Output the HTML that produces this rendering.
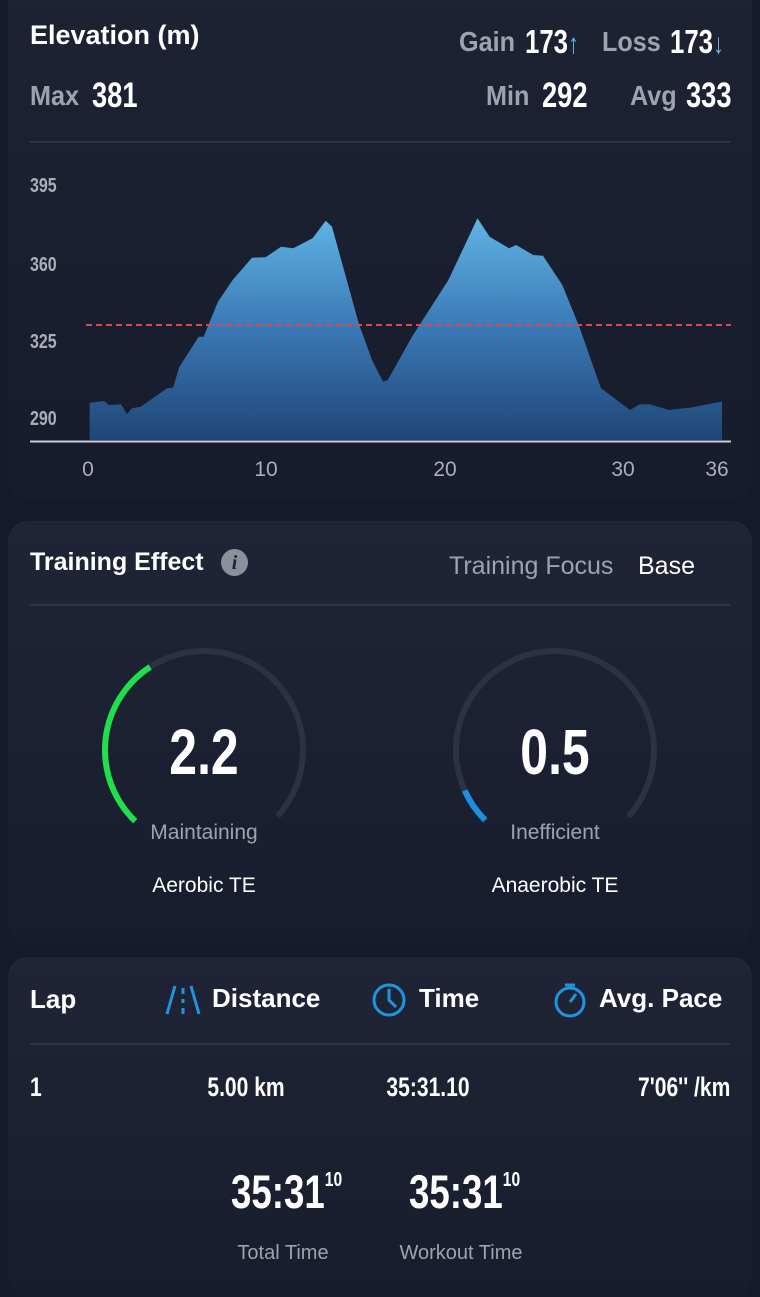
<!DOCTYPE html>
<html><head><meta charset="utf-8"><style>
html,body{margin:0;padding:0;}
body{width:760px;height:1280px;background:#141a29;overflow:hidden;position:relative;font-family:"Liberation Sans",sans-serif;color:#fff;}
.card{position:absolute;left:8px;width:744px;border-radius:20px;background:linear-gradient(#1f2536,#171d2d);}
.t{position:absolute;white-space:nowrap;line-height:1;}
.n{font-weight:bold;transform:scaleX(.78);transform-origin:0 0;}
.gl{font-weight:bold;transform:scaleX(.9);transform-origin:0 0;}
.c{transform-origin:50% 0;}
.r{transform-origin:100% 0;}
.g{color:#9ea3ae;}
.hr{position:absolute;left:30px;width:700px;height:2px;background:#2d3445;}
</style></head><body>
<div class="card" style="top:-20px;height:520px;background:linear-gradient(#1d2333,#161c2c);"></div>
<div class="card" style="top:521px;height:424px;"></div>
<div class="card" style="top:957px;height:340px;"></div>

<div class="t" style="left:30px;top:22px;font-size:27px;font-weight:bold;">Elevation (m)</div>
<div class="t gl g" style="left:459px;top:28px;font-size:28px;">Gain</div>
<div class="t n" style="left:525px;top:25px;font-size:33px;">173<span style="color:#6cb7ee;font-weight:normal;font-size:28px">↑</span></div>
<div class="t gl g" style="left:602px;top:28px;font-size:28px;">Loss</div>
<div class="t n" style="left:670px;top:25px;font-size:33px;">173<span style="color:#6cb7ee;font-weight:normal;font-size:28px">↓</span></div>
<div class="t gl g" style="left:30px;top:82px;font-size:28px;">Max</div>
<div class="t n" style="left:92px;top:78px;font-size:35px;">381</div>
<div class="t gl g" style="left:486px;top:82px;font-size:28px;">Min</div>
<div class="t n" style="left:542px;top:78px;font-size:35px;">292</div>
<div class="t gl g" style="left:630px;top:82px;font-size:28px;">Avg</div>
<div class="t n" style="left:686px;top:78px;font-size:35px;">333</div>
<div class="hr" style="top:141px;"></div>

<svg style="position:absolute;left:0;top:0" width="760" height="500">
<defs><linearGradient id="eg" x1="0" y1="0" x2="0" y2="1"><stop offset="0" stop-color="#5fb4e6"/><stop offset="0.5" stop-color="#3a78b5"/><stop offset="1" stop-color="#1f4676"/></linearGradient></defs>
<polygon fill="url(#eg)" points="89.7,440 89.7,402.7 104.2,401 109,405 121,404.3 127,414.3 131.8,408.3 140.6,406.7 160,393.3 167.2,388.3 173,387.7 179.4,366.7 198.7,336.7 203.6,336.7 218,301.7 232.7,280 252,257.7 265.6,257.3 281,246.7 293.3,248.3 312.6,238.3 325.7,220.7 332,226.7 358.7,323.3 372,360 383,381.7 387.8,380 412,336.7 448.4,280 477.5,218.3 489.6,236.7 509,248.3 516.2,245 533.2,255 543,255.7 562.3,285 579.3,326.7 601,388.3 630,410 640,404.3 649.5,404.3 669,410 693,407.3 712.5,403.3 722,401.7 722,440"/>
<line x1="86" y1="325" x2="731" y2="325" stroke="#d9474f" stroke-width="2" stroke-dasharray="6,4"/>
<line x1="30" y1="441.5" x2="731" y2="441.5" stroke="#c5cad6" stroke-width="2"/>
<g font-family="Liberation Sans,sans-serif" font-size="20" fill="#a9aeb9" font-weight="bold" transform="translate(30 0) scale(.8 1)">
<text x="0" y="192">395</text><text x="0" y="271">360</text><text x="0" y="348">325</text><text x="0" y="425">290</text></g>
<g font-family="Liberation Sans,sans-serif" font-size="21" fill="#a9aeb9" text-anchor="middle">
<text x="88" y="476">0</text><text x="266" y="476">10</text><text x="445" y="476">20</text><text x="623" y="476">30</text><text x="717" y="476">36</text></g>
</svg>

<div class="t" style="left:30px;top:550px;font-size:25px;font-weight:bold;">Training Effect</div>
<div class="t" style="left:221px;top:549px;width:27px;height:27px;border-radius:50%;background:#8b909c;color:#1d2333;font:italic bold 20px 'Liberation Serif',serif;text-align:center;line-height:28px;">i</div>
<div class="t g" style="left:449px;top:554px;font-size:25px;">Training Focus</div>
<div class="t" style="left:638px;top:554px;font-size:25px;">Base</div>
<div class="hr" style="top:604px;"></div>

<svg style="position:absolute;left:0;top:600px" width="760" height="250">
<g fill="none" stroke-width="6">
<circle cx="204" cy="150" r="99" stroke="#2c3242" stroke-dasharray="463 1000" transform="rotate(134 204 150)"/>
<circle cx="204" cy="150" r="99" stroke="#1fe04a" stroke-dasharray="178 1000" transform="rotate(134 204 150)"/>
<circle cx="555" cy="150" r="99" stroke="#2c3242" stroke-dasharray="463 1000" transform="rotate(134 555 150)"/>
<circle cx="555" cy="150" r="99" stroke="#1e8fe0" stroke-dasharray="36 1000" transform="rotate(135 555 150)"/>
</g></svg>
<div class="t n c" style="left:104px;width:200px;text-align:center;top:720px;font-size:64px;">2.2</div>
<div class="t n c" style="left:455px;width:200px;text-align:center;top:720px;font-size:64px;">0.5</div>
<div class="t g" style="left:104px;width:200px;text-align:center;top:822px;font-size:21px;">Maintaining</div>
<div class="t g" style="left:455px;width:200px;text-align:center;top:822px;font-size:21px;">Inefficient</div>
<div class="t" style="left:104px;width:200px;text-align:center;top:875px;font-size:21px;">Aerobic TE</div>
<div class="t" style="left:455px;width:200px;text-align:center;top:875px;font-size:21px;">Anaerobic TE</div>

<div class="t" style="left:30px;top:986px;font-size:26px;font-weight:bold;">Lap</div>
<svg style="position:absolute;left:160px;top:980px" width="600" height="40">
<g stroke="#1f95e0" stroke-width="3" fill="none">
<line x1="7" y1="34" x2="15" y2="6"/><line x1="39" y1="34" x2="31" y2="6"/><line x1="23" y1="8" x2="23" y2="14"/><line x1="23" y1="19" x2="23" y2="23"/><line x1="23" y1="28" x2="23" y2="34"/>
<circle cx="229" cy="20" r="15"/><path d="M229 9 V20 L236 27"/>
<circle cx="410" cy="22" r="14"/><path d="M405 5 H415 M410 5 V8 M410 22 L416 14"/>
</g></svg>
<div class="t" style="left:212px;top:985px;font-size:26px;font-weight:bold;">Distance</div>
<div class="t" style="left:419px;top:985px;font-size:26px;font-weight:bold;">Time</div>
<div class="t" style="left:599px;top:985px;font-size:26px;font-weight:bold;">Avg. Pace</div>
<div class="hr" style="top:1043px;"></div>
<div class="t n" style="left:30px;top:1074px;font-size:27px;">1</div>
<div class="t n c" style="left:146px;width:200px;text-align:center;top:1074px;font-size:27px;">5.00 km</div>
<div class="t n c" style="left:328px;width:200px;text-align:center;top:1074px;font-size:27px;">35:31.10</div>
<div class="t n r" style="right:30px;top:1074px;font-size:27px;">7'06'' /km</div>
<div class="t n" style="left:231px;top:1168px;font-size:47px;">35:31<span style="font-size:20px;vertical-align:22px;">10</span></div>
<div class="t n" style="left:409px;top:1168px;font-size:47px;">35:31<span style="font-size:20px;vertical-align:22px;">10</span></div>
<div class="t g" style="left:183px;width:200px;text-align:center;top:1243px;font-size:20px;">Total Time</div>
<div class="t g" style="left:361px;width:200px;text-align:center;top:1243px;font-size:20px;">Workout Time</div>
</body></html>
